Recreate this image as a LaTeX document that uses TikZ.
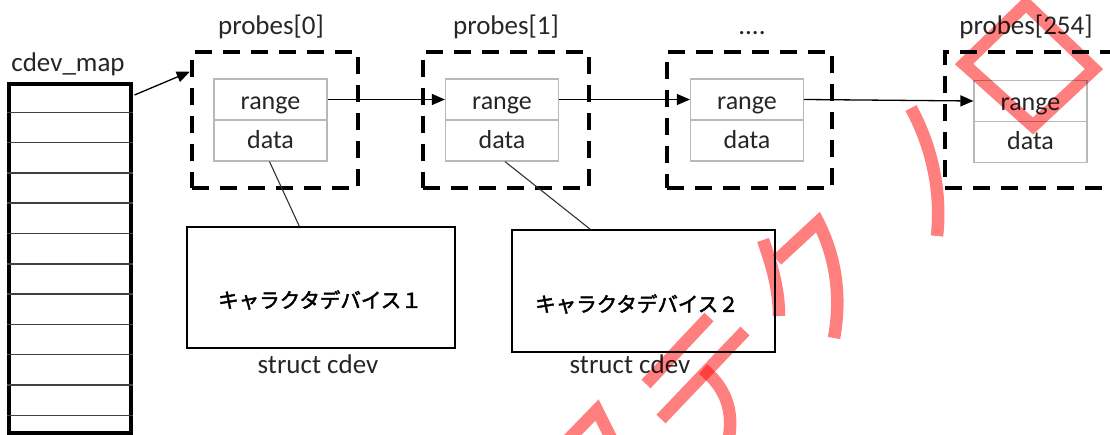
\documentclass[tikz,border=0pt]{standalone}
\usepackage{fontspec}
\setmainfont{Carlito}
\newfontfamily\jpfont[FakeBold=2.2]{Noto Sans CJK JP}
\usetikzlibrary{calc,arrows.meta}

\definecolor{inkred}{HTML}{FF7F7F}

\begin{document}
\begin{tikzpicture}[x=1pt,y=-1pt,
  lbl/.style={font=\fontsize{27}{30}\selectfont, text=black!85, inner sep=0pt},
  field/.style={draw=black!28, line width=1.2pt, minimum width=113pt, minimum height=41pt,
                inner sep=0pt, font=\fontsize{26}{30}\selectfont, text=black!85, text depth=0pt},
  rangefield/.style={field, text height=20pt},
  datafield/.style={field, text height=16pt},
  probebox/.style={draw, line width=4.5pt, dash pattern=on 17pt off 11pt, inner sep=0pt},
  devbox/.style={draw, line width=1.3pt, inner sep=0pt},
  devtext/.style={font=\jpfont\fontsize{20.5}{24}\selectfont, inner sep=0pt},
  link/.style={line width=1.3pt, -{Triangle[length=13pt,width=11pt]}},
  wire/.style={line width=1.1pt, black!80},
  redstroke/.style={draw=inkred, line width=12.5pt, line join=miter, blend mode=multiply}
]
\useasboundingbox (0,0) rectangle (1110,435);
\clip (0,0) rectangle (1110,435);

% the cdev_map table
\node[lbl, anchor=base] (maplbl) at (68,72) {cdev\_map};
\node[draw, line width=4pt, minimum width=122pt, minimum height=349pt, inner sep=0pt] (map) at (69.5,258.5) {};
\foreach \i in {1,...,11}
  \draw[line width=1.5pt, black!75] ($(map.north west)+(0,30.3*\i)$) -- ($(map.north east)+(0,30.3*\i)$);

% probes entries
\node[probebox, minimum width=166pt, minimum height=136pt] (p0) at (275,120) {};
\node[probebox, minimum width=166pt, minimum height=136pt] (p1) at (506,120) {};
\node[probebox, minimum width=165pt, minimum height=136pt] (p2) at (749.5,120) {};
\node[probebox, minimum width=200pt, minimum height=136pt] (p3) at (1045,120) {};

\node[lbl, anchor=base] (l0) at (271,35) {probes[0]};
\node[lbl, anchor=base] (l1) at (506,35) {probes[1]};
\node[lbl, anchor=base] (l2) at (752,35) {....};
\node[lbl, anchor=base] (l3) at (1026,35) {probes[254]};

\node[rangefield] (r0) at (270.5,99.5) {range};
\node[datafield] (d0) at (270.5,140.5) {data};
\node[rangefield] (r1) at (502,99.5) {range};
\node[datafield] (d1) at (502,140.5) {data};
\node[rangefield] (r2) at (747,99.5) {range};
\node[datafield] (d2) at (747,140.5) {data};
\node[rangefield] (r3) at (1030.5,101) {range};
\node[datafield] (d3) at (1030.5,142) {data};

% character devices
\node[devbox, minimum width=268pt, minimum height=121pt] (dev1) at (321,287.5) {};
\node[devbox, minimum width=263pt, minimum height=122pt] (dev2) at (643.5,291) {};
\node[devtext] (t1) at (320,300) {キャラクタデバイス１};
\node[devtext] (t2) at (637,304) {キャラクタデバイス２};
\node[lbl, anchor=base] (s1) at (318,373) {struct cdev};
\node[lbl, anchor=base] (s2) at (630,373) {struct cdev};

% connectors
\draw[link] ($(map.north east)+(2,13)$) -- ($(p0.north west)+(0,22)$);
\draw[link] (r0.east) -- (r1.west);
\draw[link] (r1.east) -- (r2.west);
\draw[link] (r2.east) -- (r3.west);
\draw[wire] ($(d0.south)+(-1,0)$) -- ($(dev1.north west)+(113,0)$);
\draw[wire] ($(d1.south)+(3,0)$) -- ($(dev2.north west)+(79,0)$);

% red overlay strokes
\draw[redstroke] (1026,4) -- (964,64) -- (1033,126) -- (1094,69) -- cycle;
\draw[redstroke] (911,108) .. controls (931,145) and (942,190) .. (937,236);
\draw[redstroke] (763,240) .. controls (772,265) and (779,290) .. (779,316);
\draw[redstroke] (777,260) -- (818,222) .. controls (835,255) and (842,295) .. (834,338);
\draw[redstroke] (709,317) -- (646,384);
\draw[redstroke] (745,331) -- (661,419);
\draw[redstroke] (703,369) .. controls (722,385) and (734,405) .. (729,437);
\draw[redstroke] (566,442) -- (597,410) -- (613,442);
\end{tikzpicture}
\end{document}
